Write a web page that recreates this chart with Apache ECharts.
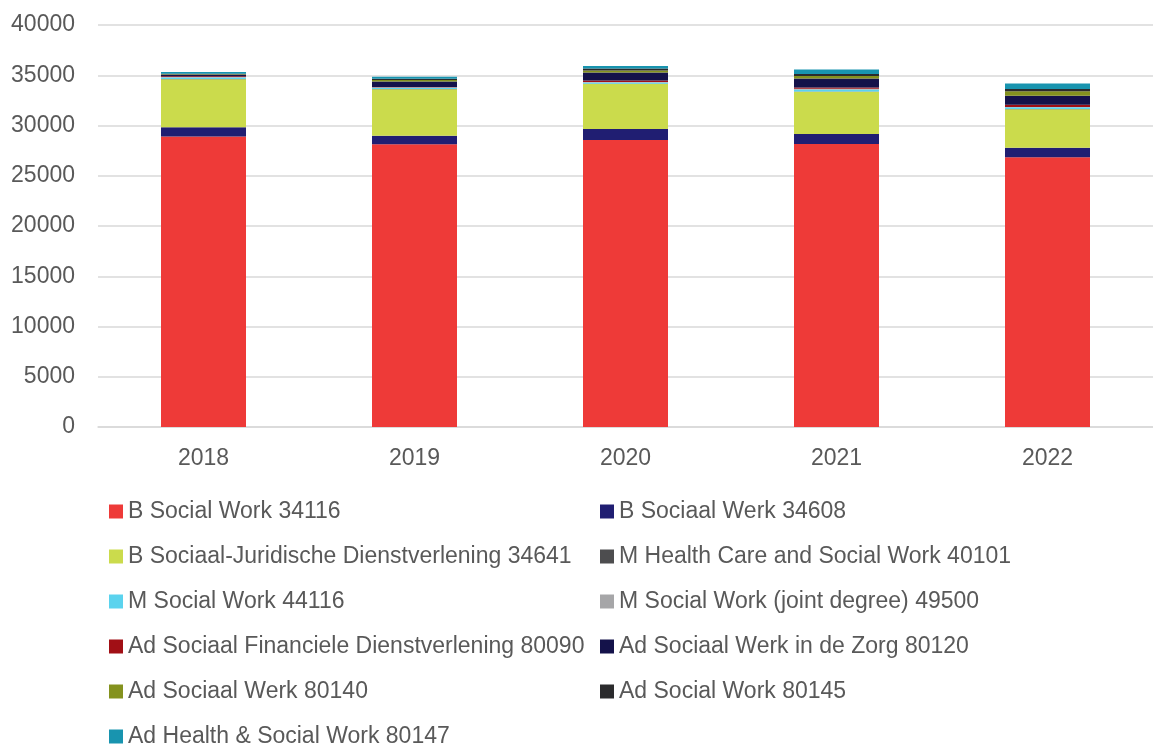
<!DOCTYPE html>
<html>
<head>
<meta charset="utf-8">
<script src="https://cdn.jsdelivr.net/npm/echarts@6/dist/echarts.min.js"></script>
<style>
  html, body { margin: 0; padding: 0; background: #fff; }
  #chart { width: 1153px; height: 744px; }
</style>
</head>
<body>
<div id="chart"></div>
<script>
const years = ['2018', '2019', '2020', '2021', '2022'];
const yTicks = [0, 5000, 10000, 15000, 20000, 25000, 30000, 35000, 40000];

const names = [
  'B Social Work 34116',
  'B Sociaal Werk 34608',
  'B Sociaal-Juridische Dienstverlening 34641',
  'M Health Care and Social Work 40101',
  'M Social Work 44116',
  'M Social Work (joint degree) 49500',
  'Ad Sociaal Financiele Dienstverlening 80090',
  'Ad Sociaal Werk in de Zorg 80120',
  'Ad Sociaal Werk 80140',
  'Ad Social Work 80145',
  'Ad Health & Social Work 80147'
];

const bSocialWork = [28900, 28130, 28550, 28150, 26850];
const bSociaalWerk = [920, 850, 1100, 1000, 940];
const bSjd = [4780, 4620, 4480, 4210, 3820];
const mHealthCare = [30, 30, 30, 30, 30];
const mSocialWork = [150, 120, 120, 200, 180];
const mJoint = [50, 50, 50, 60, 20];
const adFinancieel = [60, 30, 150, 120, 230];
const adZorg = [150, 550, 800, 900, 900];
const adSociaalWerk = [50, 150, 200, 250, 430];
const adSocialWork = [60, 120, 200, 200, 240];
const adHealthSocial = [180, 200, 230, 450, 530];

const seriesData = [bSocialWork, bSociaalWerk, bSjd, mHealthCare, mSocialWork, mJoint,
  adFinancieel, adZorg, adSociaalWerk, adSocialWork, adHealthSocial];
const colors = ['#EE3A38', '#201E72', '#CBDB4C', '#4D4D4F', '#5BD3EE', '#A6A6A8',
  '#A10F15', '#14124A', '#84921E', '#2B2B2D', '#1894AF'];

const font = '"Liberation Sans", Arial, sans-serif';
const textColor = '#595959';

const chart = echarts.init(document.getElementById('chart'));

const legendText = { color: textColor, fontSize: 23, fontFamily: font, lineHeight: 22 };

chart.setOption({
  animation: false,
  color: colors,
  grid: { left: 98, top: 25, width: 1062, height: 402, containLabel: false },
  legend: [
    {
      orient: 'vertical', left: 104, top: 495, height: 300, itemGap: 22,
      icon: 'rect', itemWidth: 14, itemHeight: 14, selectedMode: false,
      textStyle: legendText,
      data: names.filter((n, i) => i % 2 === 0)
    },
    {
      orient: 'vertical', left: 595, top: 495, height: 300, itemGap: 22,
      icon: 'rect', itemWidth: 14, itemHeight: 14, selectedMode: false,
      textStyle: legendText,
      data: names.filter((n, i) => i % 2 === 1)
    }
  ],
  xAxis: {
    type: 'category',
    data: years,
    axisLine: { lineStyle: { color: '#D9D9D9', width: 1.5 } },
    axisTick: { show: false },
    axisLabel: { color: textColor, fontSize: 23, fontFamily: font, margin: 20 }
  },
  yAxis: {
    type: 'value',
    min: yTicks[0],
    max: yTicks[yTicks.length - 1],
    interval: yTicks[1] - yTicks[0],
    axisLine: { show: false },
    axisTick: { show: false },
    splitLine: { lineStyle: { color: '#D9D9D9', width: 1.5 } },
    axisLabel: { color: textColor, fontSize: 23, fontFamily: font, margin: 23, formatter: v => String(v) }
  },
  series: names.map((name, i) => ({
    name: name,
    type: 'bar',
    stack: 'total',
    barWidth: 85,
    data: seriesData[i]
  }))
});
</script>
</body>
</html>
